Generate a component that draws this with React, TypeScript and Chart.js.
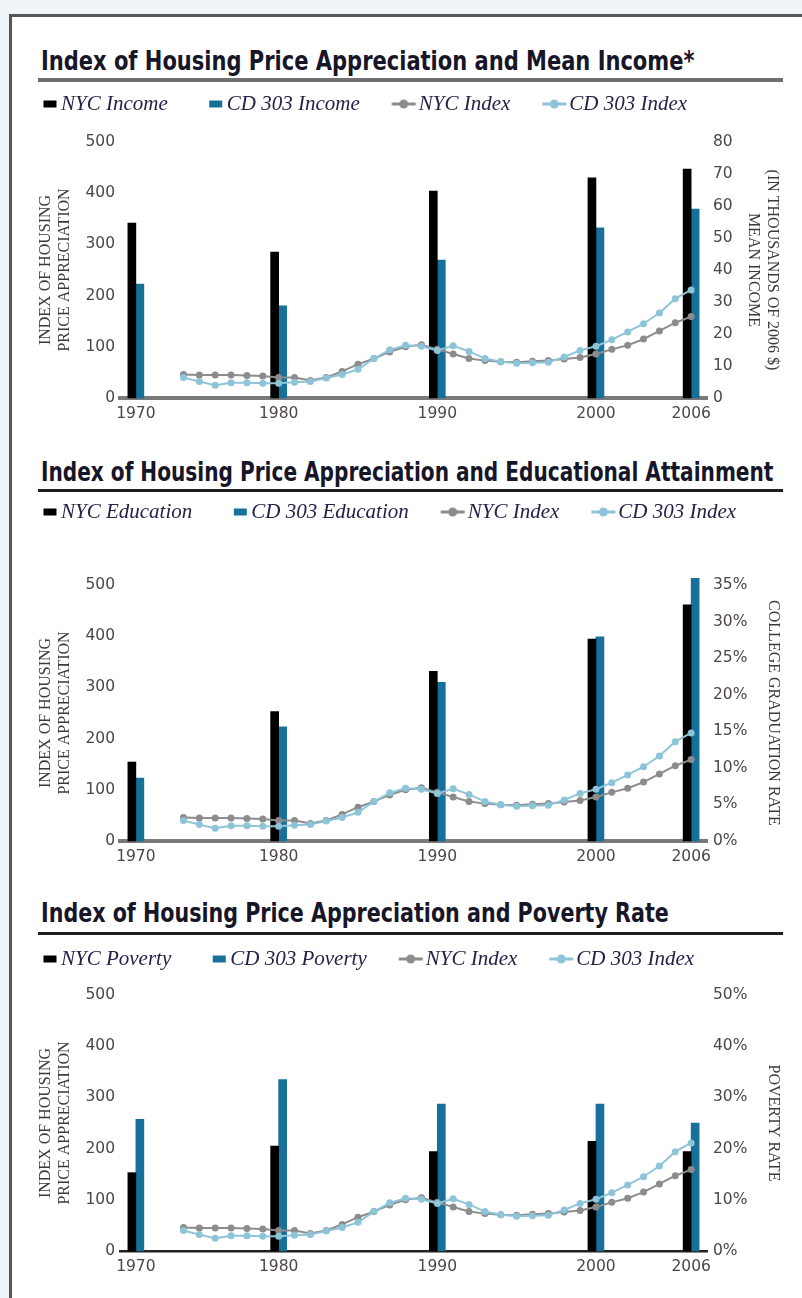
import React, { useEffect, useRef } from 'react';
import { Chart, registerables } from 'chart.js';

Chart.register(...registerables);

// ---------- data ----------
const categories = ['', '1970', '1972', '1973', '1974', '1975', '1976', '1977', '1978', '1979', '1980', '1981', '1982', '1983', '1984', '1985', '1986', '1987', '1988', '1989', '1990', '1991', '1992', '1993', '1994', '1995', '1996', '1997', '1998', '1999', '2000', '2001', '2002', '2003', '2004', '2005', '2006', ''];
const tickYears = ['1970', '1980', '1990', '2000', '2006'];
const barYears = ['1970', '1980', '1990', '2000', '2006'];
const lineYears = ['1974', '1975', '1976', '1977', '1978', '1979', '1980', '1981', '1982', '1983', '1984', '1985', '1986', '1987', '1988', '1989', '1990', '1991', '1992', '1993', '1994', '1995', '1996', '1997', '1998', '1999', '2000', '2001', '2002', '2003', '2004', '2005', '2006'];

const nycIndex = [46, 45, 45, 45, 44, 43, 40, 40, 34, 40, 52, 66, 77, 90, 100, 104, 95, 86, 77, 73, 71, 70, 72, 73, 76, 79, 86, 95, 103, 115, 131, 147, 159];
const cd303Index = [40, 32, 25, 30, 30, 29, 29, 31, 32, 39, 46, 56, 77, 94, 103, 101, 93, 102, 91, 77, 71, 68, 69, 70, 80, 93, 101, 114, 129, 145, 166, 194, 211];

const nycIncome = [54.7, 45.6, 64.7, 68.8, 71.5];
const cd303Income = [35.6, 28.8, 43.1, 53.2, 59.0];
const nycEducation = [10.8, 17.7, 23.2, 27.6, 32.3];
const cd303Education = [8.6, 15.6, 21.7, 27.9, 35.9];
const nycPoverty = [15.3, 20.5, 19.4, 21.4, 19.4];
const cd303Poverty = [25.7, 33.5, 28.7, 28.7, 25.0];

const leftAxisTitle = ['INDEX OF HOUSING', 'PRICE APPRECIATION'];

// ---------- styles ----------
const BLACK = '#000000';
const TEAL = '#16709a';
const GRAY = '#8c8c8c';
const LIGHT = '#8ec4d8';
const TICK_COLOR = '#4d4646';
const LEGEND_COLOR = '#232347';
const TICK_FONT = { family: "'DejaVu Sans', sans-serif", size: 15.5 };
const AXIS_TITLE_FONT = { family: "'Liberation Serif', serif", size: 16, lineHeight: '19px' };

function makeIcon(kind: 'bar' | 'line', color: string, offset: number): HTMLCanvasElement {
  const c = document.createElement('canvas');
  c.width = 70;
  c.height = 20;
  const ctx = c.getContext('2d') as CanvasRenderingContext2D;
  const cx = 35 + offset;
  const cy = 10;
  ctx.fillStyle = color;
  ctx.strokeStyle = color;
  if (kind === 'bar') {
    ctx.fillRect(cx - 6.5, cy - 3.5, 13, 7);
  } else {
    ctx.lineWidth = 3;
    ctx.beginPath();
    ctx.moveTo(cx - 12, cy);
    ctx.lineTo(cx + 12, cy);
    ctx.stroke();
    ctx.beginPath();
    ctx.arc(cx, cy, 4.5, 0, Math.PI * 2);
    ctx.fill();
  }
  return c;
}

type PanelProps = {
  top: number;
  legendH: number;
  labels: string[];
  nyc: number[];
  cd: number[];
  rightMax: number;
  rightStep: number;
  pct: boolean;
  rightTitle: string | string[];
  rightTitlePad: number;
  axisColor: string;
  axisWidth: number;
};

const CANVAS_LEFT = 2;
const CANVAS_W = 800;
const PLOT_H = 256;
const XAXIS_H = 32;

function Panel(p: PanelProps) {
  const ref = useRef<HTMLCanvasElement | null>(null);
  useEffect(() => {
    if (!ref.current) return;
    const icons = [
      makeIcon('bar', BLACK, 11.5),
      makeIcon('bar', TEAL, 11.5),
      makeIcon('line', GRAY, 7.5),
      makeIcon('line', LIGHT, 7.5),
    ];
    const legendHeightPlugin = {
      id: 'legendHeight',
      beforeInit(chart: any) {
        const legend = chart.legend;
        if (!legend) return;
        const orig = legend.fit;
        legend.fit = function () {
          orig.call(this);
          this.height = p.legendH;
        };
      },
    };
    const chart = new Chart(ref.current, {
      type: 'bar',
      data: {
        labels: categories,
        datasets: [
          {
            type: 'bar',
            label: p.labels[0],
            data: barYears.map((y, i) => ({ x: y, y: p.nyc[i] })) as any,
            backgroundColor: BLACK,
            yAxisID: 'yR',
            barThickness: 8,
            order: 3,
            clip: false as any,
          },
          {
            type: 'bar',
            label: p.labels[1],
            data: barYears.map((y, i) => ({ x: y, y: p.cd[i] })) as any,
            backgroundColor: TEAL,
            yAxisID: 'yR',
            barThickness: 8,
            order: 3,
            clip: false as any,
          },
          {
            type: 'line',
            label: p.labels[2],
            data: lineYears.map((y, i) => ({ x: y, y: nycIndex[i] })) as any,
            borderColor: GRAY,
            backgroundColor: GRAY,
            pointBackgroundColor: GRAY,
            pointBorderWidth: 0,
            pointRadius: 3.5,
            borderWidth: 2,
            tension: 0,
            yAxisID: 'yL',
            order: 1,
          },
          {
            type: 'line',
            label: p.labels[3],
            data: lineYears.map((y, i) => ({ x: y, y: cd303Index[i] })) as any,
            borderColor: LIGHT,
            backgroundColor: LIGHT,
            pointBackgroundColor: LIGHT,
            pointBorderWidth: 0,
            pointRadius: 3.5,
            borderWidth: 2,
            tension: 0,
            yAxisID: 'yL',
            order: 0,
          },
        ],
      },
      options: {
        animation: false,
        responsive: false,
        maintainAspectRatio: false,
        layout: { padding: 0 },
        plugins: {
          tooltip: { enabled: false },
          legend: {
            display: true,
            position: 'top',
            align: 'start',
            labels: {
              usePointStyle: true,
              pointStyleWidth: 24,
              padding: 24.5,
              color: LEGEND_COLOR,
              font: { family: "'Liberation Serif', serif", style: 'italic', size: 21 },
              generateLabels: (ch: any) =>
                ch.data.datasets.map((ds: any, i: number) => ({
                  text: ds.label,
                  pointStyle: icons[i],
                  datasetIndex: i,
                  hidden: false,
                  lineWidth: 0,
                  fillStyle: 'rgba(0,0,0,0)',
                  strokeStyle: 'rgba(0,0,0,0)',
                  fontColor: LEGEND_COLOR,
                })),
            },
          },
        },
        scales: {
          x: {
            type: 'category',
            offset: false,
            grid: { display: false, drawTicks: false },
            border: { display: true, color: p.axisColor, width: p.axisWidth },
            ticks: {
              autoSkip: false,
              maxRotation: 0,
              minRotation: 0,
              padding: 7,
              color: TICK_COLOR,
              font: TICK_FONT,
              callback: (v: any) => {
                const l = categories[v as number];
                return tickYears.includes(l) ? l : '';
              },
            },
            afterFit: (s: any) => {
              s.height = XAXIS_H;
            },
          },
          yL: {
            type: 'linear',
            position: 'left',
            min: 0,
            max: 500,
            grid: { display: false, drawTicks: false },
            border: { display: false },
            ticks: { stepSize: 100, padding: 5, color: TICK_COLOR, font: TICK_FONT },
            title: {
              display: true,
              text: leftAxisTitle,
              color: '#3a3a3a',
              font: AXIS_TITLE_FONT,
              padding: { top: 34.5, bottom: 0 },
            },
            afterFit: (s: any) => {
              s.width = 120 - CANVAS_LEFT;
            },
          },
          yR: {
            type: 'linear',
            position: 'right',
            min: 0,
            max: p.rightMax,
            grid: { display: false, drawTicks: false },
            border: { display: false },
            ticks: {
              stepSize: p.rightStep,
              padding: 6,
              color: TICK_COLOR,
              font: TICK_FONT,
              callback: (v: any) => (p.pct ? `${v}%` : `${v}`),
            },
            title: {
              display: true,
              text: p.rightTitle,
              color: '#3a3a3a',
              font: AXIS_TITLE_FONT,
              padding: { top: p.rightTitlePad, bottom: 0 },
            },
            afterFit: (s: any) => {
              s.width = CANVAS_LEFT + CANVAS_W - 707;
            },
          },
        },
      } as any,
      plugins: [legendHeightPlugin],
    });
    return () => chart.destroy();
  }, []);
  const h = p.legendH + PLOT_H + XAXIS_H;
  return (
    <div style={{ position: 'absolute', left: CANVAS_LEFT, top: p.top, width: CANVAS_W, height: h }}>
      <canvas ref={ref} width={CANVAS_W} height={h} style={{ width: CANVAS_W, height: h, display: 'block' }} />
    </div>
  );
}

const titleStyle = (top: number, sx: number): React.CSSProperties => ({
  position: 'absolute',
  left: 41,
  top,
  fontFamily: "'Liberation Sans Narrow', 'DejaVu Sans Condensed', 'Roboto Condensed', sans-serif",
  fontWeight: 'bold',
  fontSize: 27,
  lineHeight: '27px',
  color: '#161628',
  whiteSpace: 'nowrap',
  transform: `scaleX(${sx})`,
  transformOrigin: 'left center',
});

const ruleStyle = (top: number, h: number, color: string): React.CSSProperties => ({
  position: 'absolute',
  left: 38,
  width: 745,
  top,
  height: h,
  background: color,
});

export default function App() {
  useEffect(() => {
    document.body.style.margin = '0';
    document.body.style.background = '#eef4f8';
  }, []);
  return (
    <div style={{ position: 'relative', width: 802, height: 1298, background: '#eef4f8', overflow: 'hidden' }}>
      <div
        style={{
          position: 'absolute',
          left: 9,
          top: 14,
          right: 0,
          bottom: 0,
          background: '#ffffff',
          borderLeft: '3px solid #555555',
          borderTop: '3px solid #555555',
        }}
      />
      <div style={titleStyle(47, 0.865)}>Index of Housing Price Appreciation and Mean Income*</div>
      <div style={ruleStyle(78, 4, '#707070')} />
      <div style={titleStyle(458, 0.828)}>Index of Housing Price Appreciation and Educational Attainment</div>
      <div style={ruleStyle(489, 3, '#1e1e1e')} />
      <div style={titleStyle(899, 0.85)}>Index of Housing Price Appreciation and Poverty Rate</div>
      <div style={ruleStyle(932, 3, '#1e1e1e')} />

      <Panel
        top={69}
        legendH={73}
        labels={['NYC Income', 'CD 303 Income', 'NYC Index', 'CD 303 Index']}
        nyc={nycIncome}
        cd={cd303Income}
        rightMax={80}
        rightStep={10}
        pct={false}
        rightTitle={['(IN THOUSANDS OF 2006 $)', 'MEAN INCOME']}
        rightTitlePad={20.5}
        axisColor="#7a7a7a"
        axisWidth={4}
      />
      <Panel
        top={477}
        legendH={108}
        labels={['NYC Education', 'CD 303 Education', 'NYC Index', 'CD 303 Index']}
        nyc={nycEducation}
        cd={cd303Education}
        rightMax={35}
        rightStep={5}
        pct={true}
        rightTitle="COLLEGE GRADUATION RATE"
        rightTitlePad={19.5}
        axisColor="#7a7a7a"
        axisWidth={4}
      />
      <Panel
        top={924}
        legendH={71}
        labels={['NYC Poverty', 'CD 303 Poverty', 'NYC Index', 'CD 303 Index']}
        nyc={nycPoverty}
        cd={cd303Poverty}
        rightMax={50}
        rightStep={10}
        pct={true}
        rightTitle="POVERTY RATE"
        rightTitlePad={19.5}
        axisColor="#222222"
        axisWidth={2.5}
      />
    </div>
  );
}
